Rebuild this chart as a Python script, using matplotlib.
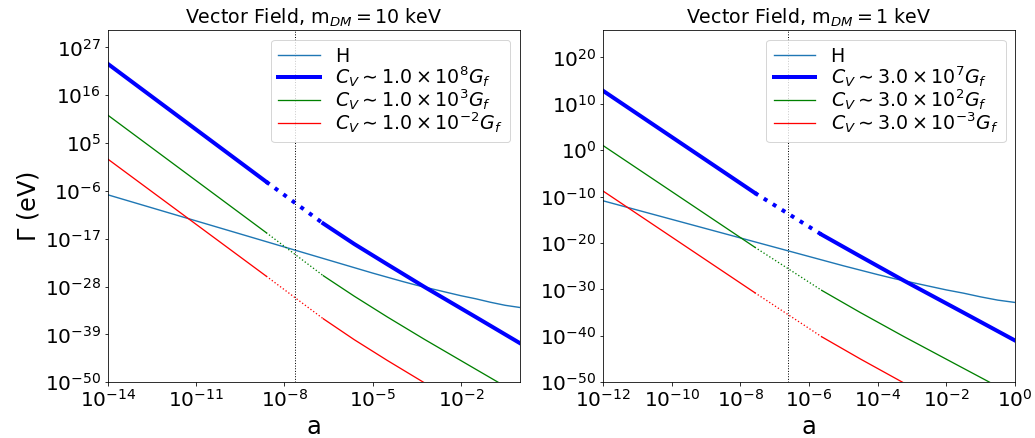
import numpy as np
import matplotlib
matplotlib.use("Agg")
import matplotlib.pyplot as plt
from matplotlib.ticker import NullLocator

# values, as log10(a) and log10(Gamma / eV)
logA_H = [-14, -12, -10, -8, -6, -5, -4, -3.5, -3, -2.5, -2, -1.5, -1, -0.5, 0]
logG_H = [-6.9, -10.9, -14.9, -18.9, -22.9, -24.9, -26.8, -27.7, -28.5, -29.3, -30.1, -30.8, -31.6, -32.3, -32.8]

# late-time branch (same in both panels)
logA_late = [-6.68, -5.63, -4.5, -3.25, -1.5, 0]
logG_late_blue = [-13.5, -18.2, -22.9, -28.05, -35.0, -41.0]
logG_late_green = [-25.5, -30.2, -35.0, -40.1, -47.0, -52.9]
logG_late_red = [-35.4, -40.2, -45.0, -50.1, -57.0, -63.0]

# left panel (m_DM = 10 keV)
logA_L = [-14, -8.62, -6.68]
logG_L_blue = [23.2, -3.9, -13.5]
logG_L_green = [11.4, -15.6, -25.5]
logG_L_red = [1.3, -25.6, -35.4]
labels_L = [r'$C_V \sim 1.0\times10^{8}G_f$', r'$C_V \sim 1.0\times10^{3}G_f$', r'$C_V \sim 1.0\times10^{-2}G_f$']
a_line_L = 2.3e-8

# right panel (m_DM = 1 keV)
logA_R = [-12, -7.58, -5.63]
logG_R_blue = [12.8, -9.2, -18.2]
logG_R_green = [1.0, -20.9, -30.2]
logG_R_red = [-8.8, -30.7, -40.2]
labels_R = [r'$C_V \sim 3.0\times10^{7}G_f$', r'$C_V \sim 3.0\times10^{2}G_f$', r'$C_V \sim 3.0\times10^{-3}G_f$']
a_line_R = 2.4e-7


def p(v):
    return 10.0 ** np.array(v, dtype=float)


def panel(ax, la, gb, gg, gr, labels, a_line, title, xlim, ylim, xt, yt):
    ax.plot(p(logA_H), p(logG_H), color='C0', lw=1.4, label='H')
    late = {'b': logG_late_blue, 'g': logG_late_green, 'r': logG_late_red}
    for g, c, lw, lab in [(gb, 'b', 4, labels[0]), (gg, 'g', 1.3, labels[1]), (gr, 'r', 1.3, labels[2])]:
        ax.plot(p(la[:2]), p(g[:2]), color=c, lw=lw, label=lab)
        ax.plot(p(la[1:]), p(g[1:]), color=c, lw=lw, ls=':')
        # late branch, starting where the dotted part ends
        lx = [x for x in logA_late if x >= la[2]]
        ly = [y for x, y in zip(logA_late, late[c]) if x >= la[2]]
        if lx[0] != la[2]:
            lx = [la[2]] + lx
            ly = [g[2]] + ly
        ax.plot(p(lx), p(ly), color=c, lw=lw)
    ax.axvline(a_line, color='k', ls=':', lw=1)
    ax.set_xscale('log')
    ax.set_yscale('log')
    ax.set_xlim(*xlim)
    ax.set_ylim(*ylim)
    ax.set_xticks(p(xt))
    ax.set_yticks(p(yt))
    ax.xaxis.set_minor_locator(NullLocator())
    ax.yaxis.set_minor_locator(NullLocator())
    ax.tick_params(labelsize=20)
    ax.set_xlabel('a', fontsize=24)
    ax.set_title(title, fontsize=19)
    ax.legend(loc='upper right', fontsize=19, labelspacing=-0.1, handlelength=2.2)


fig, axs = plt.subplots(1, 2, figsize=(1035 / 72, 438 / 72), dpi=72)
fig.subplots_adjust(left=0.1043, right=0.9807, bottom=0.1272, top=0.9315, wspace=0.202)

panel(axs[0], logA_L, logG_L_blue, logG_L_green, logG_L_red, labels_L, a_line_L,
      r'Vector Field, m$_{DM} = 10$ keV', (1e-14, 1), (1e-50, 1e31),
      np.arange(-14, 0, 3), np.arange(-50, 31, 11))
panel(axs[1], logA_R, logG_R_blue, logG_R_green, logG_R_red, labels_R, a_line_R,
      r'Vector Field, m$_{DM} = 1$ keV', (1e-12, 1), (1e-50, 10 ** 25.9),
      np.arange(-12, 1, 2), np.arange(-50, 21, 10))
axs[0].set_ylabel(r'$\Gamma$ (eV)', fontsize=24)

fig.savefig('out.png', dpi=72)
